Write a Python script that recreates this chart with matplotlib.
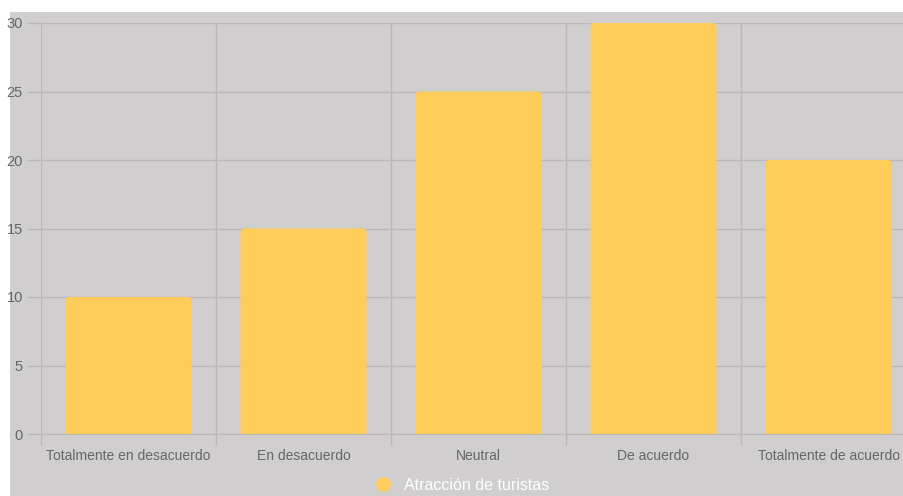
import matplotlib.pyplot as plt
from matplotlib.lines import Line2D
from matplotlib.patches import Rectangle, FancyBboxPatch

categories = ['Totalmente en desacuerdo', 'En desacuerdo', 'Neutral', 'De acuerdo', 'Totalmente de acuerdo']
values = [10, 15, 25, 30, 20]
series_name = 'Atracción de turistas'
yticks = [0, 5, 10, 15, 20, 25, 30]

bg = '#d0cecf'
grid_col = '#b9b7b8'
bar_col = '#fecc58'
text_col = '#666666'

plt.rcParams['font.family'] = ['Liberation Sans', 'DejaVu Sans']

fig = plt.figure(figsize=(9.04, 4.96), dpi=100)
fig.patch.set_facecolor('white')
# grey panel behind the chart (white strip on top and left)
fig.patches.append(Rectangle((10 / 904, 0), 1, 1 - 12 / 496, transform=fig.transFigure,
                             facecolor=bg, edgecolor='none', zorder=-10))

ax = fig.add_axes([41 / 904, 62 / 496, 875 / 904, 411 / 496])
ax.set_facecolor(bg)

ax.set_xlim(-0.5, len(categories) - 0.5)
ax.set_ylim(0, 30)

x = list(range(len(categories)))
bars = ax.bar(x, values, width=0.72, color=bar_col, zorder=3)

# swap plain bars for ones with slightly rounded tops
px_x = 5 / 875
px_y = 30 / 411
for b in bars:
    bx, by, bw, bh = b.get_x(), b.get_y(), b.get_width(), b.get_height()
    b.set_visible(False)
    rb = FancyBboxPatch((bx, by - 1), bw, bh + 1,
                        boxstyle='round,pad=0,rounding_size=%f' % (4 * px_x),
                        mutation_aspect=px_y / px_x,
                        facecolor=bar_col, edgecolor='none', zorder=3)
    ax.add_patch(rb)

ax.set_yticks(yticks)
ax.set_xticks(x)
ax.set_xticklabels(categories)
ax.set_xticks([i - 0.5 for i in range(len(categories) + 1)], minor=True)

ax.tick_params(axis='x', which='major', length=0, pad=11, labelsize=10, labelcolor=text_col)
ax.tick_params(axis='x', which='minor', length=8, color=grid_col, width=1)
ax.tick_params(axis='y', length=10, color=grid_col, width=1, pad=3, labelsize=10.5, labelcolor=text_col)

ax.grid(axis='y', which='major', color=grid_col, linewidth=1, zorder=0)
ax.grid(axis='x', which='minor', color=grid_col, linewidth=1, zorder=0)
ax.set_axisbelow(True)
for s in ax.spines.values():
    s.set_visible(False)
ax.spines['bottom'].set_visible(True)
ax.spines['bottom'].set_color(grid_col)
ax.spines['bottom'].set_zorder(4)

handle = Line2D([], [], marker='o', linestyle='none', markersize=9.5,
                markerfacecolor=bar_col, markeredgecolor=bar_col)
fig.legend(handles=[handle], labels=[series_name], loc='center',
           bbox_to_anchor=(458 / 904, 11 / 496), frameon=False,
           labelcolor='white', fontsize=11.5, handletextpad=0.3)

fig.savefig('out.png', dpi=100)
